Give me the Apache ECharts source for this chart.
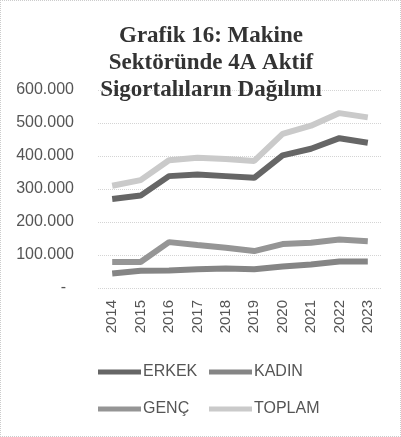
<!DOCTYPE html>
<html><head><meta charset="utf-8">
<script src="https://cdn.jsdelivr.net/npm/echarts@6/dist/echarts.min.js"></script>
<style>html,body{margin:0;padding:0;background:#fff}#c{width:401px;height:437px;box-sizing:border-box;border:1px dotted #ccc}</style>
</head><body><div id="c"></div>
<script>
var years = ['2014','2015','2016','2017','2018','2019','2020','2021','2022','2023'];
var erkek = [270000,280000,339000,344000,339000,334000,402000,422000,454000,440000];
var kadin = [44000,52000,53000,57000,59000,57000,65000,71000,80000,80000];
var genc = [79000,79000,139000,130000,122000,112000,133000,137000,147000,142000];
var toplam = [310000,327000,387000,395000,391000,385000,467000,492000,530000,517000];
var titleText = 'Grafik 16: Makine\nSektöründe 4A Aktif\nSigortalıların Dağılımı';

var chart = echarts.init(document.getElementById('c'), null, {renderer:'canvas'});
function fmt(v){ if(v===0) return '{z|-}'; return String(v).replace(/\B(?=(\d{3})+(?!\d))/g,'.'); }
function mk(name, data, color){
  return {name:name, type:'line', data:data, symbol:'none', smooth:false,
    lineStyle:{width:6, color:color}, itemStyle:{color:color}, z: 2};
}
var legText = {fontFamily:'Liberation Sans', fontSize:16, color:'#555', padding:[0,0,0,-3]};
chart.setOption({
  animation:false,
  title:{text:titleText, left:205, top:17, textAlign:'center',
    textStyle:{fontFamily:'Liberation Serif', fontWeight:'bold', fontSize:23, lineHeight:27, color:'#333'}},
  grid:{left:97, right:18, top:89, bottom:148},
  xAxis:{type:'category', data:years, boundaryGap:true,
    axisLine:{show:false}, axisTick:{show:false},
    axisLabel:{rotate:90, margin:12, fontFamily:'Liberation Sans', fontSize:15, color:'#555'}},
  yAxis:{type:'value', min:0, max:600000, interval:100000,
    axisLine:{show:false}, axisTick:{show:false},
    splitLine:{lineStyle:{color:'#d4d4d4', type:'dotted', width:1}},
    axisLabel:{margin:24, fontFamily:'Liberation Sans', fontSize:16, color:'#555', formatter:fmt,
      rich:{z:{fontFamily:'Liberation Sans', fontSize:16, color:'#555', padding:[0,8,0,0]}}}},
  legend:[
    {data:['ERKEK','GENÇ'], orient:'vertical', left:97, top:363, padding:0, itemWidth:43, itemHeight:5, itemGap:21,
      icon:'rect', textStyle:legText},
    {data:['KADIN','TOPLAM'], orient:'vertical', left:208, top:363, padding:0, itemWidth:43, itemHeight:5, itemGap:21,
      icon:'rect', textStyle:legText}
  ],
  series:[
    mk('ERKEK', erkek, '#666666'),
    mk('KADIN', kadin, '#858585'),
    mk('GENÇ', genc, '#959595'),
    mk('TOPLAM', toplam, '#cacaca')
  ]
});
</script></body></html>
